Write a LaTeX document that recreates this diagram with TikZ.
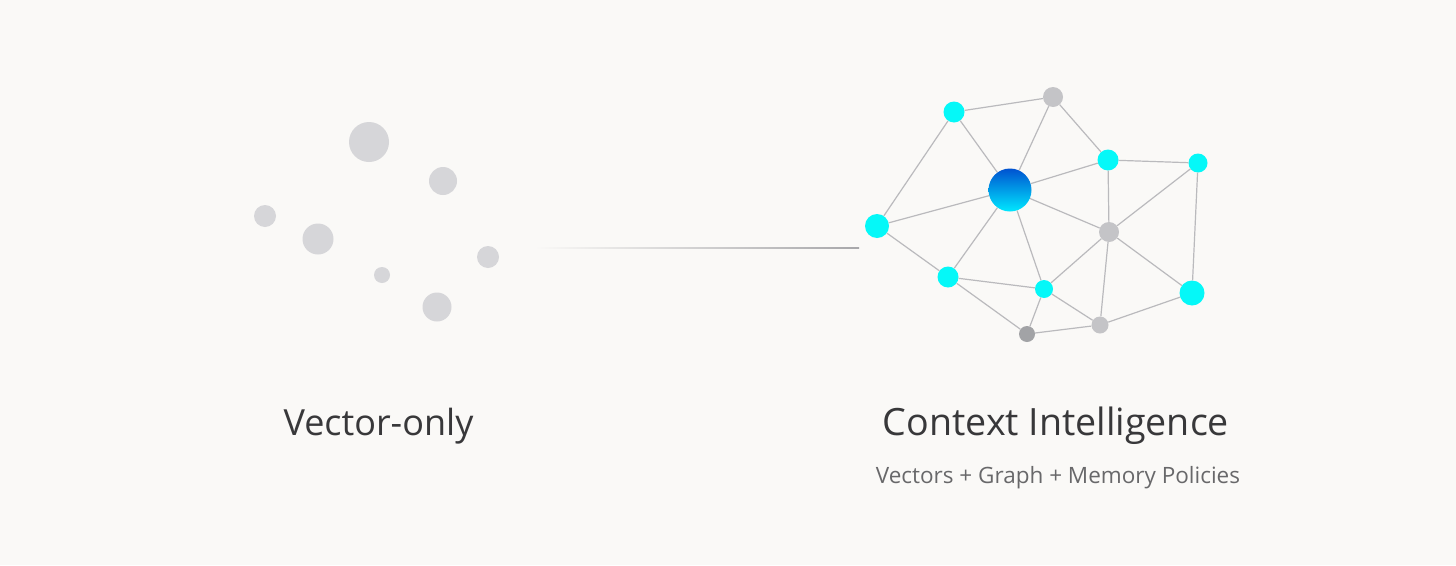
\documentclass[tikz,border=0pt]{standalone}
\usepackage{fontspec}
\setmainfont{Open Sans}
\begin{document}
\begin{tikzpicture}[x=1pt,y=-1pt,
  dot/.style={circle,fill=dotgray,inner sep=0pt,minimum size=#1},
  cy/.style={circle,fill=cyanc,inner sep=0pt,minimum size=#1},
  gy/.style={circle,fill=netgray,inner sep=0pt,minimum size=#1},
  dg/.style={circle,fill=darkgray2,inner sep=0pt,minimum size=#1},
  edge/.style={draw=edgec,line width=1.2pt}]
\definecolor{bgc}{HTML}{FAF9F7}
\definecolor{dotgray}{HTML}{D6D6D9}
\definecolor{netgray}{HTML}{C4C4C7}
\definecolor{darkgray2}{HTML}{A2A3A6}
\definecolor{cyanc}{HTML}{05F8F8}
\definecolor{edgec}{HTML}{BABABD}
\definecolor{bluetop}{HTML}{0052D0}
\definecolor{bluebot}{HTML}{00E8FF}
\definecolor{titlec}{HTML}{38383A}
\definecolor{subc}{HTML}{68686A}
\fill[bgc] (0,0) rectangle (1456,565);
\useasboundingbox (0,0) rectangle (1456,565);
% left scattered dots
\node[dot=40pt] (d1) at (369,142) {};
\node[dot=28pt] (d2) at (443,181) {};
\node[dot=22pt] (d3) at (265,216) {};
\node[dot=31pt] (d4) at (318,239) {};
\node[dot=22pt] (d5) at (488,257) {};
\node[dot=16pt] (d6) at (382,275) {};
\node[dot=29pt] (d7) at (437,307) {};
% connector line
\shade[left color=bgc,right color=edgec!90!black] (535,247.2) rectangle (859,248.8);
% network nodes
\node[gy=20pt] (B) at (1053,97) {};
\node[cy=21pt] (A) at (954,112) {};
\node[cy=21pt] (D) at (1108,160) {};
\node[cy=19pt] (E) at (1198,163) {};
\node[cy=24pt] (F) at (877,226) {};
\node[gy=20pt] (G) at (1109,232) {};
\node[cy=21pt] (H) at (948,277) {};
\node[cy=18pt] (I) at (1044,289) {};
\node[cy=25pt] (J) at (1192,293) {};
\node[gy=17pt] (K) at (1100,325) {};
\node[dg=16pt] (L) at (1027,334) {};
\node[circle,inner sep=0pt,minimum size=43pt] (C) at (1010,190) {};
\foreach \a/\b in {A/B,A/F,A/C,B/C,B/D,C/D,C/F,C/H,C/I,C/G,D/E,D/G,E/G,E/J,F/H,H/I,H/L,I/G,I/K,I/L,G/K,G/J,K/L,K/J}
  \draw[edge] (\a) -- (\b);
\shade[top color=bluetop,bottom color=bluebot] (C) circle (21.5pt);
% texts
\node[text=titlec,font=\fontsize{36}{42}\selectfont,anchor=base] (t1) at (378.5,435) {Vector-only};
\node[text=titlec,font=\fontsize{37.6}{44}\selectfont,anchor=base] (t2) at (1056,435) {Context Intelligence};
\node[text=subc,font=\fontsize{22.5}{26}\selectfont,anchor=base] (t3) at (1058,483) {Vectors + Graph + Memory Policies};
\end{tikzpicture}
\end{document}
